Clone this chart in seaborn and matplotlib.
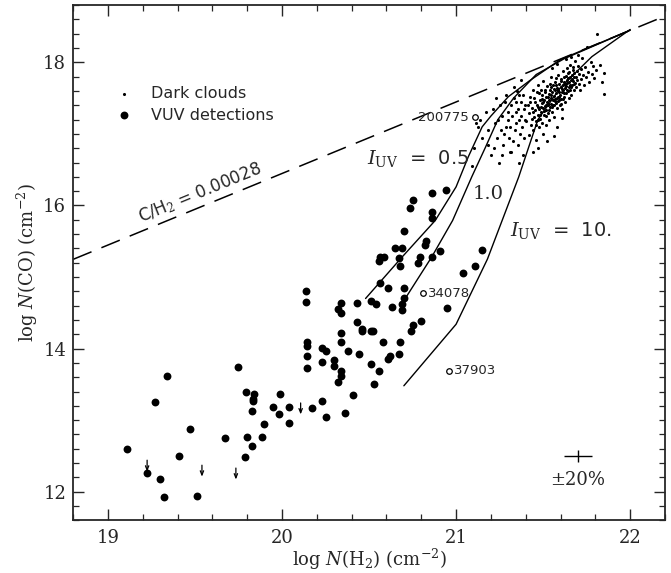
import numpy as np
import pandas as pd
import matplotlib
matplotlib.use("Agg")
import matplotlib.pyplot as plt
import seaborn as sns
from matplotlib.ticker import MultipleLocator

# ---------------- data ----------------
# VUV detections (log N(H2), log N(CO))
vuv_x = [19.11, 19.225, 19.27, 19.30, 19.32, 19.34, 19.41, 19.474, 19.514, 19.67,
         19.746, 19.788, 19.795, 19.80, 19.827, 19.827, 19.835, 19.84, 19.835, 19.886,
         19.894, 19.95, 19.98, 19.99, 20.04, 20.04, 20.14, 20.14, 20.143, 20.143,
         20.143, 20.143, 20.17, 20.227, 20.227, 20.227, 20.25, 20.25, 20.30, 20.30,
         20.32, 20.34, 20.34, 20.34, 20.34, 20.34, 20.34, 20.32, 20.38, 20.36,
         20.41, 20.43, 20.43, 20.44, 20.457, 20.46, 20.51, 20.51, 20.52, 20.53,
         20.51, 20.54, 20.556, 20.565, 20.556, 20.565, 20.58, 20.585, 20.61, 20.61,
         20.62, 20.63, 20.65, 20.67, 20.68, 20.67, 20.68, 20.70, 20.69, 20.70,
         20.70, 20.69, 20.69, 20.736, 20.75, 20.74, 20.75, 20.78, 20.79, 20.82,
         20.83, 20.86, 20.86, 20.86, 20.86, 20.80, 20.91, 20.94, 20.95, 21.04,
         21.11, 21.15]
vuv_y = [12.60, 12.26, 13.26, 12.18, 11.92, 13.62, 12.50, 12.88, 11.94, 12.75,
         13.74, 12.49, 13.40, 12.76, 12.64, 13.13, 13.30, 13.37, 13.27, 12.76,
         12.95, 13.19, 13.09, 13.37, 12.96, 13.19, 14.81, 14.65, 14.09, 14.04,
         13.89, 13.73, 13.17, 14.01, 13.81, 13.27, 13.97, 13.05, 13.84, 13.75,
         14.55, 14.64, 14.50, 14.22, 14.09, 13.68, 13.62, 13.53, 13.96, 13.10,
         13.35, 14.64, 14.37, 13.92, 14.27, 14.24, 13.78, 14.24, 14.24, 13.51,
         14.66, 14.62, 13.69, 14.91, 15.23, 15.28, 14.09, 15.28, 14.84, 13.86,
         13.90, 14.58, 15.40, 15.27, 15.15, 13.93, 14.09, 15.65, 15.41, 14.84,
         14.70, 14.62, 14.54, 15.96, 16.07, 14.24, 14.33, 15.19, 15.28, 15.45,
         15.50, 16.17, 15.91, 15.83, 15.28, 14.38, 15.36, 16.21, 14.57, 15.05,
         15.15, 15.38]

# Dark clouds
dc_x = [21.092, 21.104, 21.113, 21.127, 21.148, 21.172, 21.186, 21.203, 21.138, 21.181,
        21.214, 21.226, 21.233, 21.247, 21.252, 21.258, 21.266, 21.271, 21.284, 21.279,
        21.296, 21.303, 21.297, 21.219, 21.263, 21.288, 21.241, 21.276, 21.229, 21.308,
        21.312, 21.318, 21.324, 21.327, 21.331, 21.338, 21.343, 21.347, 21.352, 21.355,
        21.358, 21.362, 21.366, 21.371, 21.374, 21.378, 21.383, 21.386, 21.391, 21.394,
        21.398, 21.334, 21.364, 21.373, 21.314, 21.392, 21.345, 21.361,
        21.403, 21.412, 21.418, 21.421, 21.427, 21.433, 21.436, 21.441, 21.444, 21.447,
        21.452, 21.455, 21.458, 21.461, 21.463, 21.466, 21.469, 21.472, 21.474, 21.477,
        21.481, 21.483, 21.486, 21.488, 21.491, 21.494, 21.496, 21.499, 21.502, 21.505,
        21.507, 21.509, 21.512, 21.514, 21.517, 21.519, 21.522, 21.524, 21.527, 21.529,
        21.531, 21.534, 21.536, 21.538, 21.541, 21.543, 21.545, 21.548, 21.550, 21.552,
        21.555, 21.557, 21.559, 21.562, 21.564, 21.566, 21.569, 21.571, 21.573, 21.576,
        21.578, 21.581, 21.583, 21.585, 21.588, 21.590, 21.593, 21.595, 21.597, 21.600,
        21.602, 21.605, 21.607, 21.609, 21.612, 21.614, 21.617, 21.619, 21.622, 21.624,
        21.627, 21.629, 21.631, 21.634, 21.636, 21.639, 21.641, 21.644, 21.646, 21.649,
        21.652, 21.654, 21.657, 21.659, 21.662, 21.664, 21.667, 21.669, 21.672, 21.675,
        21.678, 21.681, 21.684, 21.687, 21.690, 21.693, 21.697, 21.700, 21.704, 21.708,
        21.712, 21.716, 21.720, 21.725, 21.730, 21.735, 21.741, 21.747, 21.753, 21.760,
        21.766, 21.773, 21.779, 21.786, 21.795, 21.805, 21.812, 21.825, 21.838, 21.848,
        21.852,
        21.425, 21.438, 21.449, 21.457, 21.468, 21.476, 21.484, 21.492, 21.503, 21.511,
        21.518, 21.526, 21.533, 21.539, 21.546, 21.553, 21.561, 21.567, 21.574, 21.580,
        21.587, 21.594, 21.601, 21.608, 21.615, 21.621, 21.628, 21.635, 21.642, 21.648,
        21.655, 21.662, 21.668, 21.674, 21.680, 21.440, 21.470, 21.500, 21.530, 21.560,
        21.590, 21.620, 21.650, 21.680, 21.545, 21.575, 21.605, 21.635, 21.515, 21.485,
        21.580, 21.630, 21.660, 21.700, 21.550, 21.520, 21.560, 21.610, 21.580, 21.470,
        21.440, 21.500]
dc_y = [16.55, 16.80, 17.15, 17.10, 16.95, 17.30, 17.05, 16.70, 17.20, 16.85,
        17.35, 17.15, 16.95, 16.60, 17.40, 17.05, 17.25, 16.85, 17.10, 17.45,
        17.20, 16.95, 17.30, 16.80, 16.70, 17.55, 17.20, 17.00, 17.50, 16.75,
        17.10, 17.40, 17.25, 16.90, 17.50, 17.05, 17.30, 17.15, 17.60, 16.85,
        17.35, 17.20, 17.00, 17.45, 17.25, 17.10, 17.55, 16.70, 17.35, 17.20,
        17.40, 17.65, 16.60, 17.75, 16.75, 16.95, 17.45, 17.55,
        17.18, 17.41, 16.98, 17.29, 17.52, 17.12, 17.36, 17.61, 17.05, 17.24,
        17.45, 17.33, 16.92, 17.18, 17.58, 17.40, 17.27, 17.69, 17.09, 17.35,
        17.48, 17.21, 17.62, 17.30, 17.43, 17.15, 17.55, 17.36, 17.74, 17.26,
        17.47, 17.39, 17.58, 17.12, 17.33, 17.51, 17.44, 17.67, 17.29, 17.40,
        17.56, 17.47, 17.19, 17.62, 17.38, 17.50, 17.79, 17.42, 17.31, 17.59,
        17.47, 17.68, 17.40, 17.53, 17.24, 17.61, 17.49, 17.72, 17.43, 17.57,
        17.36, 17.64, 17.52, 17.83, 17.46, 17.59, 17.70, 17.41, 17.55, 17.66,
        17.49, 17.77, 17.58, 17.35, 17.69, 17.61, 17.88, 17.52, 17.73, 17.64,
        17.45, 17.81, 17.67, 17.57, 17.92, 17.71, 17.60, 17.78, 17.50, 17.86,
        17.69, 17.62, 17.97, 17.75, 17.55, 17.82, 17.68, 17.90, 17.74, 17.61,
        17.85, 17.71, 18.02, 17.79, 17.66, 17.88, 17.76, 17.95, 17.70, 17.84,
        17.62, 17.91, 17.77, 18.06, 17.83, 17.69, 17.93, 17.80, 18.22, 17.87,
        17.72, 18.00, 17.84, 17.95, 17.78, 17.90, 18.40, 17.96, 17.72, 17.56,
        17.85,
        17.44, 17.21, 17.50, 17.12, 17.38, 17.57, 17.27, 17.49, 17.32, 17.62,
        17.41, 17.52, 17.34, 17.70, 17.55, 17.38, 17.63, 17.46, 17.78, 17.50,
        17.62, 17.47, 17.74, 17.63, 17.49, 17.80, 17.70, 17.62, 17.85, 17.72,
        17.80, 17.66, 17.77, 17.93, 17.79, 17.30, 17.20, 17.45, 17.42, 17.40,
        17.52, 17.57, 17.66, 17.70, 17.65, 17.69, 17.42, 17.75, 17.25, 17.38,
        17.98, 18.05, 18.08, 18.10, 17.92, 16.90, 16.97, 17.22, 17.10, 16.80,
        16.75, 17.00]

# Model curves (I_UV = 0.5, 1.0, 10.)
m05_x = [20.48, 20.69, 20.88, 21.00, 21.07, 21.15, 21.20, 21.30, 21.42, 21.60, 22.00]
m05_y = [14.70, 15.28, 15.79, 16.26, 16.68, 17.10, 17.25, 17.52, 17.74, 18.04, 18.45]
m10_x = [20.70, 20.86, 20.98, 21.09, 21.17, 21.24, 21.33, 21.46, 21.62, 22.00]
m10_y = [14.67, 15.28, 15.79, 16.40, 16.82, 17.20, 17.50, 17.83, 18.05, 18.45]
m100_x = [20.70, 21.00, 21.18, 21.36, 21.47, 21.60, 21.78, 22.00]
m100_y = [13.48, 14.34, 15.25, 16.40, 17.20, 17.65, 18.08, 18.46]

# C/H2 = 0.00028 line
ratio = 0.00028
line_x = [18.8, 22.2]

# labelled stars
star_names = ["200775", "34078", "37903"]
star_x = [21.11, 20.81, 20.96]
star_y = [17.23, 14.77, 13.69]

# upper limits (arrow top)
lim_x = [19.225, 19.54, 19.735, 20.107]
lim_y = [12.44, 12.37, 12.33, 13.24]

# ---------------- plot ----------------
sns.set_style("ticks")
plt.rcParams["font.family"] = ["DejaVu Sans"]
plt.rcParams["mathtext.fontset"] = "dejavuserif"

fig = plt.figure(figsize=(6.71, 5.73), dpi=100)
ax = fig.add_axes([0.109, 0.092, 0.882, 0.899])
ax.set_xlim(18.8, 22.2)
ax.set_ylim(11.6, 18.8)

df_line = pd.DataFrame({"x": line_x, "y": [v + np.log10(ratio) for v in line_x]})
sns.lineplot(data=df_line, x="x", y="y", ax=ax, color="black", lw=1.1,
             linestyle=(0, (13, 7)), estimator=None, sort=False)

for mx, my in [(m05_x, m05_y), (m10_x, m10_y), (m100_x, m100_y)]:
    sns.lineplot(x=mx, y=my, ax=ax, color="black", lw=1.0, estimator=None, sort=False)

sns.scatterplot(x=dc_x, y=dc_y, ax=ax, color="black", s=5, linewidth=0)
sns.scatterplot(x=vuv_x, y=vuv_y, ax=ax, color="black", s=32, linewidth=0)
sns.scatterplot(x=star_x, y=star_y, ax=ax, facecolor="white", edgecolor="black",
                s=16, linewidth=0.9, zorder=5)

for sx, sy, name in zip(star_x, star_y, star_names):
    if name == "200775":
        ax.text(sx - 0.04, sy, name, ha="right", va="center", fontsize=9.5)
    else:
        ax.text(sx + 0.03, sy, name, ha="left", va="center", fontsize=9.5)

for lx, ly in zip(lim_x, lim_y):
    ax.annotate("", xy=(lx, ly - 0.16), xytext=(lx, ly),
                arrowprops=dict(arrowstyle="->,head_length=0.3,head_width=0.12",
                                color="black", lw=0.9, shrinkA=0, shrinkB=0))

# legend (drawn manually)
ax.scatter([19.094], [17.56], s=5, color="black", linewidth=0)
ax.scatter([19.094], [17.26], s=32, color="black", linewidth=0)
ax.text(19.25, 17.56, "Dark clouds", fontsize=11.5, va="center", ha="left")
ax.text(19.25, 17.26, "VUV detections", fontsize=11.5, va="center", ha="left")

# model labels
ax.text(20.49, 16.65, r"$I_{\rm UV}$  =  0.5", fontsize=14, va="center", ha="left")
ax.text(21.185, 16.16, "1.0", fontsize=14, va="center", ha="center",
        family="DejaVu Serif")
ax.text(21.31, 15.65, r"$I_{\rm UV}$  =  10.", fontsize=14, va="center", ha="left")

# dashed line label, rotated along line
fig.canvas.draw()
p0 = ax.transData.transform((19.0, 19.0 + np.log10(ratio)))
p1 = ax.transData.transform((20.0, 20.0 + np.log10(ratio)))
ang = np.degrees(np.arctan2(p1[1] - p0[1], p1[0] - p0[0]))
ax.text(19.53, 16.17, r"C/H$_2$ = 0.00028", fontsize=12, rotation=ang,
        rotation_mode="anchor", ha="center", va="center")

# error cross
ax.errorbar([21.70], [12.50], xerr=0.079, yerr=0.079, color="black", lw=1.0,
            capsize=0)
ax.text(21.70, 12.17, "±20%", fontsize=13, ha="center", va="center",
        family="DejaVu Serif")

# axes styling
ax.xaxis.set_major_locator(MultipleLocator(1))
ax.xaxis.set_minor_locator(MultipleLocator(0.2))
ax.yaxis.set_major_locator(MultipleLocator(2))
ax.yaxis.set_minor_locator(MultipleLocator(0.2))
ax.tick_params(which="both", direction="in", top=True, right=True)
ax.tick_params(which="major", length=8, width=1.0, labelsize=13)
ax.tick_params(axis="x", which="major", pad=6)
ax.tick_params(axis="y", which="major", pad=5)
ax.tick_params(which="minor", length=4, width=0.9)
for lab in ax.get_xticklabels() + ax.get_yticklabels():
    lab.set_family("DejaVu Serif")
for sp in ax.spines.values():
    sp.set_linewidth(1.3)

ax.set_xlabel(r"log $N$(H$_2$) (cm$^{-2}$)", fontsize=13, family="DejaVu Serif",
              labelpad=0)
ax.set_ylabel(r"log $N$(CO) (cm$^{-2}$)", fontsize=13, family="DejaVu Serif",
              labelpad=2)

fig.savefig("out.png", dpi=100)
